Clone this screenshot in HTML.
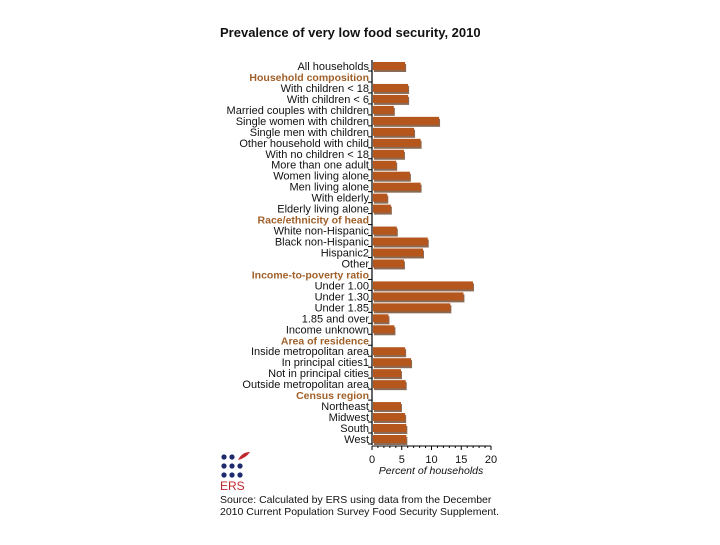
<!DOCTYPE html>
<html><head><meta charset="utf-8"><style>
body{margin:0;background:#fff;width:720px;height:540px;overflow:hidden;font-family:"Liberation Sans",sans-serif}
</style></head><body>
<svg width="720" height="540" id="c">
<text x="220" y="37" font-size="13" font-weight="bold" fill="#111">Prevalence of very low food security, 2010</text>
</svg>
<script>
const categories=["All households","Household composition","With children < 18","With children < 6","Married couples with children","Single women with children","Single men with children","Other household with child","With no children < 18","More than one adult","Women living alone","Men living alone","With elderly","Elderly living alone","Race/ethnicity of head","White non-Hispanic","Black non-Hispanic","Hispanic2","Other","Income-to-poverty ratio","Under 1.00","Under 1.30","Under 1.85","1.85 and over","Income unknown","Area of residence","Inside metropolitan area","In principal cities1","Not in principal cities","Outside metropolitan area","Census region","Northeast","Midwest","South","West"];
const values=[5.4,null,5.9,5.9,3.5,11.1,6.9,8.0,5.2,3.9,6.2,8.0,2.4,3.0,null,4.0,9.2,8.4,5.2,null,16.8,15.2,13.0,2.6,3.6,null,5.4,6.4,4.7,5.5,null,4.7,5.4,5.6,5.6];
const ticks=[0,5,10,15,20];
const svg=document.getElementById('c');const NS="http://www.w3.org/2000/svg";
const x0=372,x1=491,max=20,yTop=66,step=10.97;
const X=v=>x0+(x1-x0)*v/max;const Y=i=>yTop+i*step;
function mk(t,a,txt){const e=document.createElementNS(NS,t);for(const k in a)e.setAttribute(k,a[k]);if(txt!=null)e.textContent=txt;svg.appendChild(e);return e;}
let e=mk('line',{x1:x0,y1:Y(0)-6,x2:x0,y2:Y(categories.length-1)+6,stroke:'#000','stroke-width':1.2});


categories.forEach((c,i)=>{
 const y=Y(i);const hdr=values[i]==null;
 const t=mk('text',{x:x0-3,y:y+4,'font-size':hdr?10.5:11,'font-weight':hdr?'bold':'normal',fill:hdr?'#a0602a':'#111','text-anchor':'end'},c);
 
 
 const tk=mk('line',{x1:x0-4,y1:y+5,x2:x0,y2:y+5,stroke:'#000'});
 
 
 if(!hdr){
  const s=mk('rect',{x:x0+2,y:y-2,width:X(values[i])-x0,height:8,fill:'#8a6a55'});
  
  
  const b=mk('rect',{x:x0+1,y:y-4,width:X(values[i])-x0,height:8,fill:'#b5561c'});
  
  
 }
});
const ay=Y(categories.length-1)+7;
e=mk('line',{x1:x0,y1:ay,x2:x1,y2:ay,stroke:'#000'});


ticks.forEach(v=>{
 const l=mk('line',{x1:X(v),y1:ay,x2:X(v),y2:ay+4,stroke:'#000'});
 
 
 const t=mk('text',{x:X(v),y:ay+17,'font-size':11,'text-anchor':'middle',fill:'#111'},v);
 
 
});
for(let v=1;v<20;v++){if(v%5){const l=mk('line',{x1:X(v),y1:ay,x2:X(v),y2:ay+2,stroke:'#000'});}}
e=mk('text',{x:431,y:ay+28,'font-size':10.5,'font-style':'italic','text-anchor':'middle',fill:'#111'},'Percent of households');


const g=mk('g',{});


[[0,0],[1,0],[0,1],[1,1],[2,1],[0,2],[1,2],[2,2]].forEach(([c,r])=>{const d=document.createElementNS(NS,'circle');d.setAttribute('cx',224+c*8);d.setAttribute('cy',457+r*9);d.setAttribute('r',2.6);d.setAttribute('fill','#1d2a6b');g.appendChild(d);});
const lf=document.createElementNS(NS,'path');lf.setAttribute('d','M238 460 Q242 452 250 452 Q246 458 238 460Z');lf.setAttribute('fill','#c0262d');g.appendChild(lf);
e=mk('text',{x:220,y:490,'font-size':12,fill:'#c0262d'},'ERS');


e=mk('text',{x:220,y:503,'font-size':10.5,fill:'#111'},'Source: Calculated by ERS using data from the December');


e=mk('text',{x:220,y:515,'font-size':10.5,fill:'#111'},'2010 Current Population Survey Food Security Supplement.');


</script>
</body></html>
